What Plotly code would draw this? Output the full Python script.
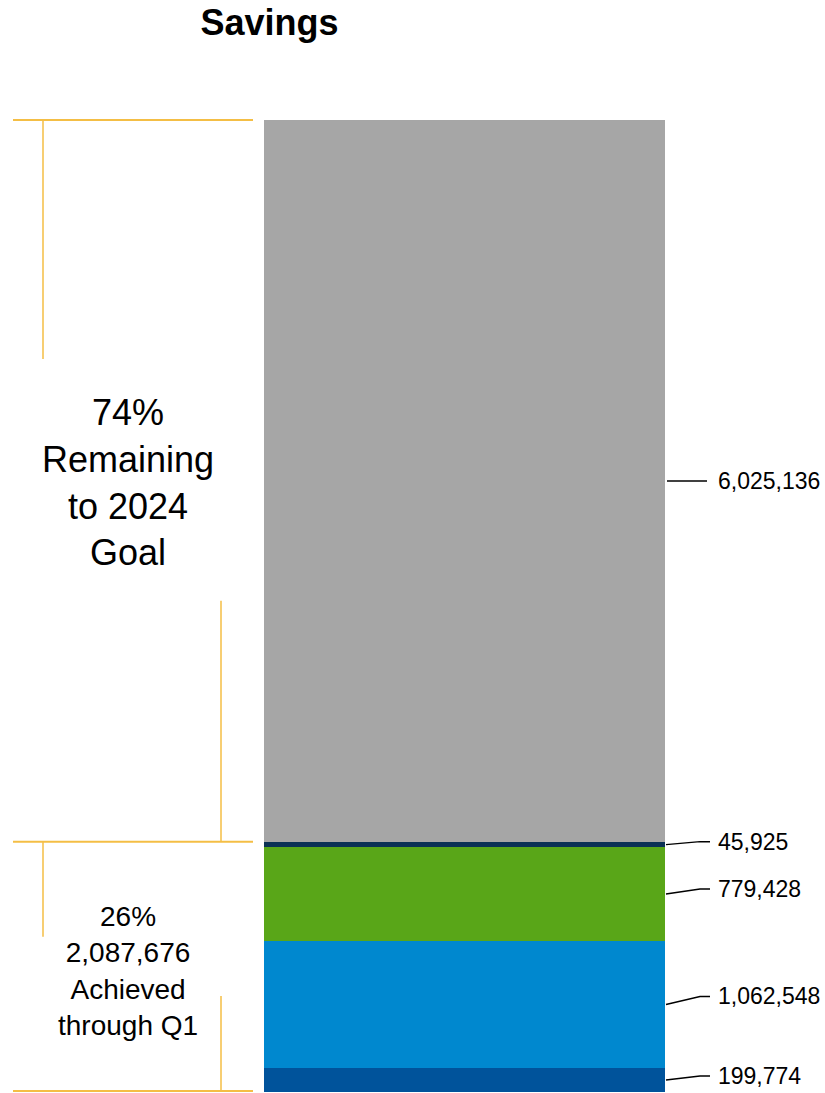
import plotly.graph_objects as go

# Data (bottom to top of the stacked bar)
segment_names = ["Segment A", "Segment B", "Segment C", "Segment D", "Remaining"]
segment_values = [199774, 1062548, 779428, 45925, 6025136]
segment_labels = ["199,774", "1,062,548", "779,428", "45,925", "6,025,136"]
segment_colors = ["#00539B", "#0088CF", "#59A618", "#0A3155", "#A6A6A6"]
# pixel offset of each value label above its segment middle (label placement)
label_lift_px = [4, 8, 5, 3, 0]

title_text = "Savings"
remaining_text = "74%<br>Remaining<br>to 2024<br>Goal"
achieved_text = "26%<br>2,087,676<br>Achieved<br>through Q1"

W, H = 825, 1093
L, R, T, B = 264, 160, 120, 1
plot_w = W - L - R
plot_h = H - T - B

total = sum(segment_values)
achieved = sum(segment_values[:4])

def px_x(px):
    return (px - L) / plot_w

def py_frac(px):
    return px / plot_h

fig = go.Figure()
for name, v, c in zip(segment_names, segment_values, segment_colors):
    fig.add_trace(go.Bar(x=[0], y=[v], name=name, marker=dict(color=c, line=dict(width=0)),
                         width=1, hoverinfo="skip", showlegend=False))

shapes = []
annotations = []
font_family = "Liberation Sans, Arial, sans-serif"

# value labels with bent leader lines
cum = 0
for v, lab, lift in zip(segment_values, segment_labels, label_lift_px):
    mid = (cum + v / 2) / total
    cum += v
    lab_y = mid + py_frac(lift)
    if lift == 0:
        path = f"M {px_x(667)},{mid} L {px_x(707)},{mid}"
    else:
        path = f"M {px_x(666)},{mid} L {px_x(700)},{lab_y} L {px_x(710)},{lab_y}"
    shapes.append(dict(type="path", xref="paper", yref="paper", path=path,
                       line=dict(color="black", width=1.5)))
    annotations.append(dict(xref="paper", yref="paper", x=px_x(716), y=lab_y,
                            xanchor="left", yanchor="middle", showarrow=False,
                            text=lab, font=dict(size=23, color="black", family=font_family)))

orange = "#F4BE45"
top = 1.0
mid_line = achieved / total
bot = 0.0
# horizontal brackets
for yy in [top, mid_line, bot + py_frac(1)]:
    shapes.append(dict(type="line", xref="paper", yref="paper",
                       x0=px_x(13), x1=px_x(253), y0=yy, y1=yy,
                       line=dict(color=orange, width=2)))
# vertical brackets
verts = [
    (43, top, top - py_frac(360 - 121)),
    (221, mid_line, mid_line + py_frac(842 - 601)),
    (43, mid_line, mid_line - py_frac(938 - 843)),
    (221, bot + py_frac(1), py_frac(1092 - 996)),
]
for xp, y0, y1 in verts:
    shapes.append(dict(type="line", xref="paper", yref="paper",
                       x0=px_x(xp), x1=px_x(xp), y0=y0, y1=y1,
                       line=dict(color=orange, width=1.5)))

annotations.append(dict(xref="paper", yref="paper", x=px_x(128),
                        y=(achieved + segment_values[4] / 2) / total, yshift=-2,
                        xanchor="center", yanchor="middle", showarrow=False, align="center",
                        text=remaining_text, font=dict(size=36, color="black", family=font_family)))
annotations.append(dict(xref="paper", yref="paper", x=px_x(128),
                        y=(achieved / 2) / total, yshift=-4,
                        xanchor="center", yanchor="middle", showarrow=False, align="center",
                        text=achieved_text, font=dict(size=28, color="black", family=font_family)))

fig.update_layout(
    width=W, height=H,
    margin=dict(l=L, r=R, t=T, b=B, autoexpand=False),
    barmode="stack", bargap=0,
    plot_bgcolor="white", paper_bgcolor="white",
    title=dict(text=f"<b>{title_text}</b>", xref="container", yref="container",
               x=269.5 / W, y=1 - 22 / H, xanchor="center", yanchor="middle",
               font=dict(size=36, color="black", family=font_family)),
    xaxis=dict(range=[-0.5, 0.5], visible=False, fixedrange=True),
    yaxis=dict(range=[0, total], visible=False, fixedrange=True),
    shapes=shapes, annotations=annotations,
)

fig.write_html(
    "out.html",
    config={"displayModeBar": False},
    post_script="document.body.style.margin='0';document.body.style.overflow='hidden';",
)
